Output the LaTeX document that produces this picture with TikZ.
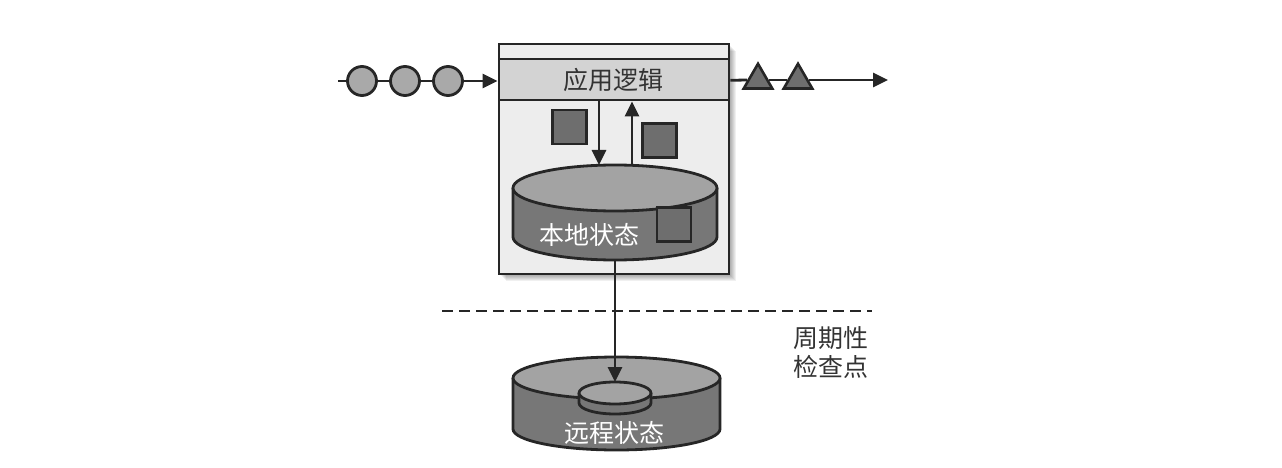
\documentclass[tikz,border=0pt]{standalone}
\usepackage{fontspec}
\setmainfont{Noto Sans CJK SC}
\usetikzlibrary{arrows.meta,shapes.geometric}
\definecolor{ink}{HTML}{262626}
\definecolor{boxfill}{HTML}{EDEDED}
\definecolor{bandfill}{HTML}{D3D3D3}
\definecolor{circfill}{HTML}{A9A9A9}
\definecolor{sqfill}{HTML}{6E6E6E}
\definecolor{cyltop}{HTML}{A3A3A3}
\definecolor{cylside}{HTML}{777777}
\definecolor{txt}{HTML}{333333}
\tikzset{
  conn/.style={draw=ink, line width=2.8pt, -{Triangle[length=15pt,width=14pt]}},
  plain/.style={draw=ink, line width=2.8pt},
  token/.style={circle, draw=ink, fill=circfill, line width=2.8pt, minimum size=29pt, inner sep=0pt},
  tri/.style={regular polygon, regular polygon sides=3, draw=ink, fill=sqfill, line width=2.6pt, minimum size=33pt, inner sep=0pt},
  sq/.style={rectangle, draw=ink, fill=sqfill, line width=2.6pt, minimum size=34pt, inner sep=0pt},
  lbl/.style={font=\fontsize{25}{30}\selectfont, inner sep=0pt},
}
\begin{document}
\begin{tikzpicture}[x=1pt,y=-1pt]
\useasboundingbox (0,0) rectangle (1282,468);
% shadow of box
\foreach \s in {1,...,7} \fill[black, opacity=0.06] (499+\s,44+\s) rectangle (729+\s,274+\s);
% outer box
\node[draw=ink, fill=boxfill, line width=2.8pt, minimum width=230pt, minimum height=230pt, inner sep=0pt] (appbox) at (614,159) {};
% header band
\node[draw=ink, fill=bandfill, line width=2.8pt, minimum width=230pt, minimum height=41pt, inner sep=0pt] (logic) at (614,79.5) {};
\node[lbl, text=txt] (logictext) at (613,80) {应用逻辑};
% input tokens
\coordinate (instart) at (338,81);
\node[token] (c1) at (362,81) {};
\node[token] (c2) at (405,81) {};
\node[token] (c3) at (448,81) {};
\draw[plain] (instart) -- (c1);
\draw[plain] (c1) -- (c2);
\draw[plain] (c2) -- (c3);
\draw[conn] (c3) -- (logic.west |- c3);
% output
\coordinate (outend) at (888,80);
\node[tri] (t1) at (758,80.3) {};
\node[tri] (t2) at (798,80.3) {};
\draw[plain] (logic.east |- t1) -- (t1.west |- 0,80);
\draw[plain] (t1.east |- 0,80) -- (t2.west |- 0,80);
\draw[conn] (t2.east |- 0,80) -- (outend);
% squares
\node[sq] (s1) at (569.5,127) {};
\node[sq] (s2) at (659.5,140.5) {};
% local state cylinder
\fill[cylside] (513,188) -- (513,237) arc[start angle=180, end angle=0, x radius=102, y radius=23] -- (717,188) -- cycle;
\draw[plain] (513,188) -- (513,237) arc[start angle=180, end angle=0, x radius=102, y radius=23] -- (717,188);
\draw[plain, fill=cyltop] (615,188) ellipse[x radius=102, y radius=23];
\coordinate (localtop) at (615,165);
\coordinate (localbot) at (615,260);
\node[sq] (s3) at (674,224.5) {};
\node[lbl, text=white] (localtext) at (589,235) {本地状态};
% arrows between logic and local state
\draw[conn] (logic.south -| 599,0) -- (localtop -| 599,0);
\draw[conn] (localtop -| 632,0) -- (logic.south -| 632,0);
% dashed line
\coordinate (dashL) at (442,311);
\coordinate (dashR) at (872,311);
\draw[draw=ink, line width=2.8pt, dash pattern=on 11pt off 6pt] (dashL) -- (dashR);
\node[lbl, text=txt, align=right, anchor=east, font=\fontsize{25}{29}\selectfont] (ckpt) at (869,352) {周期性\\检查点};
% remote state cylinder
\fill[cylside] (513,378) -- (513,429) arc[start angle=180, end angle=0, x radius=103.5, y radius=21] -- (720,378) -- cycle;
\draw[plain] (513,378) -- (513,429) arc[start angle=180, end angle=0, x radius=103.5, y radius=21] -- (720,378);
\draw[plain, fill=cyltop] (616.5,378) ellipse[x radius=103.5, y radius=21];
% inner small cylinder
\fill[cylside] (579,393) -- (579,403) arc[start angle=180, end angle=0, x radius=36, y radius=11] -- (651,393) -- cycle;
\draw[plain] (579,393) -- (579,403) arc[start angle=180, end angle=0, x radius=36, y radius=11] -- (651,393);
\draw[plain, fill=cyltop] (615,393) ellipse[x radius=36, y radius=11];
\coordinate (remotetop) at (615,382);
\node[lbl, text=white] (remotetext) at (614,433) {远程状态};
% checkpoint arrow
\draw[conn] (localbot) -- (remotetop);
\end{tikzpicture}
\end{document}
